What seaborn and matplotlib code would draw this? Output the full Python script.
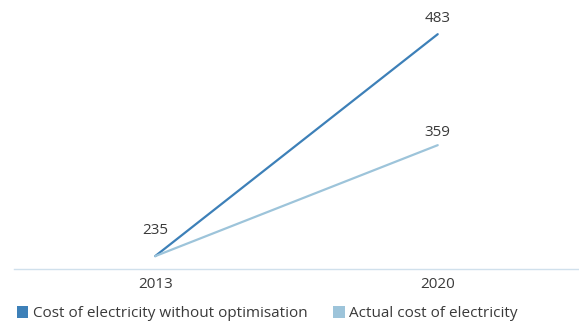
import matplotlib
matplotlib.use("Agg")
import matplotlib.pyplot as plt
from matplotlib.patches import Patch
import seaborn as sns
import pandas as pd

years = ["2013", "2020"]
without_optimisation = [235, 483]
actual_cost = [235, 359]
series_names = ["Cost of electricity without optimisation", "Actual cost of electricity"]
colors = ["#3d80b8", "#9dc4da"]

sns.set_theme(style="white")
plt.rcParams["font.family"] = ["Open Sans", "DejaVu Sans"]
text_color = "#3a3a3a"

df = pd.DataFrame({
    "year": years * 2,
    "value": without_optimisation + actual_cost,
    "series": [series_names[0]] * 2 + [series_names[1]] * 2,
})
df["x"] = [0, 1, 0, 1]

fig = plt.figure(figsize=(5.79, 3.27), dpi=100)
ax = fig.add_axes([0.024, 0.177, 0.976, 0.765])

sns.lineplot(data=df, x="x", y="value", hue="series", palette=colors,
             linewidth=1.6, ax=ax, legend=False)

ax.set_xlim(-0.5, 1.5)
ax.set_ylim(220.5, 500)
ax.set_xticks([0, 1])
ax.set_xticklabels(years, fontsize=11, color=text_color)
ax.set_yticks([])
ax.set_xlabel("")
ax.set_ylabel("")
ax.tick_params(axis="x", length=0, pad=6)
for s in ["top", "right", "left"]:
    ax.spines[s].set_visible(False)
ax.spines["bottom"].set_color("#d0e0ec")
ax.spines["bottom"].set_linewidth(1.0)

# value labels
ax.annotate(str(without_optimisation[0]), (0, without_optimisation[0]), xytext=(0, 13),
            textcoords="offset points", ha="center", va="bottom", fontsize=11, color=text_color)
ax.annotate(str(without_optimisation[1]), (1, without_optimisation[1]), xytext=(0, 6),
            textcoords="offset points", ha="center", va="bottom", fontsize=11, color=text_color)
ax.annotate(str(actual_cost[1]), (1, actual_cost[1]), xytext=(0, 4),
            textcoords="offset points", ha="center", va="bottom", fontsize=11, color=text_color)

handles = [Patch(facecolor=c, edgecolor="none") for c in colors]
fig.legend(handles, series_names, loc="center left", bbox_to_anchor=(0.029, 0.04),
           ncol=2, frameon=False, fontsize=11, labelcolor=text_color,
           handlelength=0.75, handleheight=0.75, handletextpad=0.3, columnspacing=1.68,
           borderaxespad=0, borderpad=0)

fig.savefig("out.png", dpi=100)
